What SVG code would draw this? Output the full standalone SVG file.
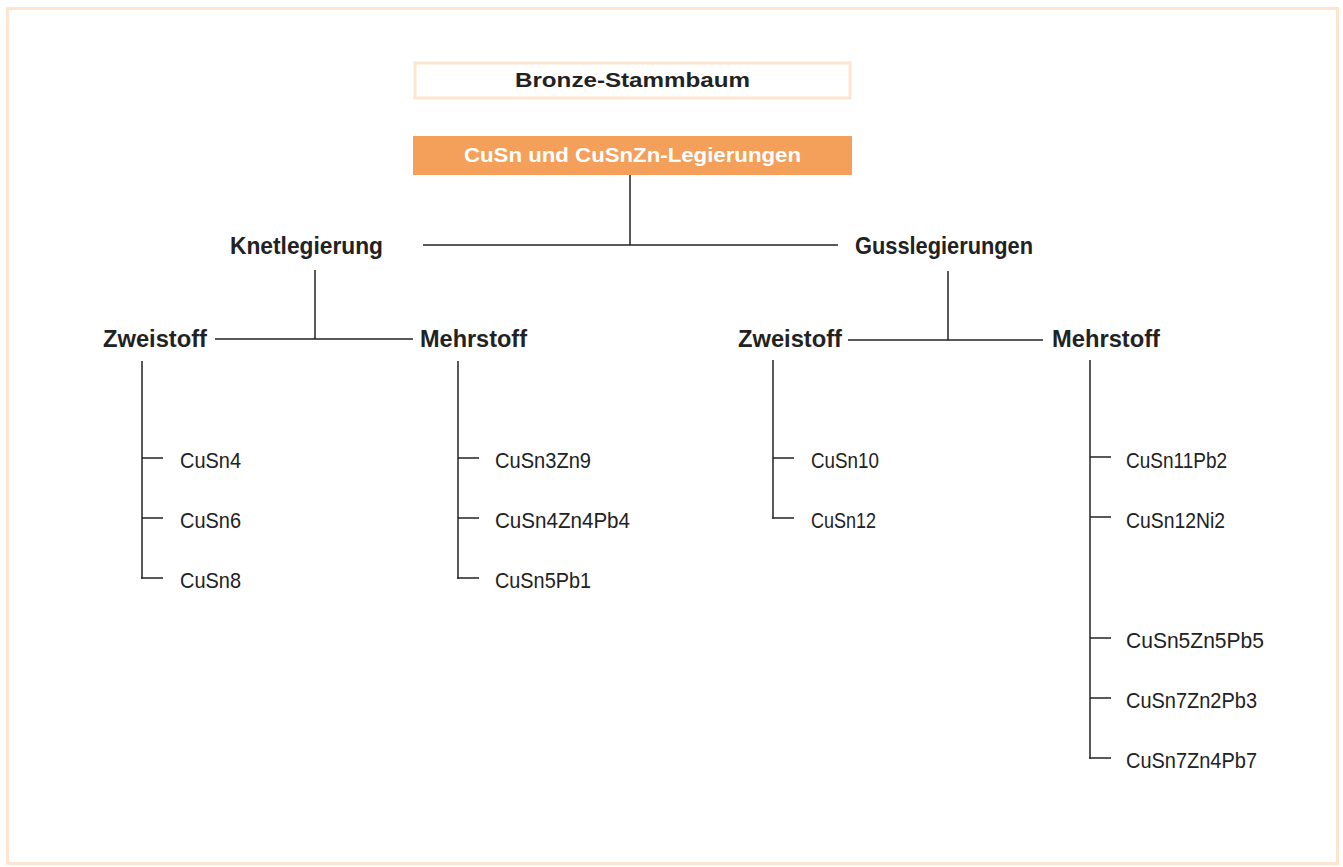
<svg xmlns="http://www.w3.org/2000/svg" width="1343" height="867" viewBox="0 0 1343 867">
<style>
.b{font-family:"Liberation Sans",Arial,sans-serif;font-weight:bold;font-size:23px;fill:#222}
.t{font-family:"Liberation Sans",Arial,sans-serif;font-weight:bold;font-size:21px;fill:#222}
.n{font-family:"Liberation Sans",Arial,sans-serif;font-size:22px;fill:#222}
.w{font-family:"Liberation Sans",Arial,sans-serif;font-weight:bold;font-size:21px;fill:#fff}
.c line{stroke:#222;stroke-width:1.5}
</style>
<rect x="7.5" y="8.5" width="1330" height="855" fill="#fff" stroke="#fde5d0" stroke-width="3"/>
<g id="title"><rect x="415" y="63" width="435" height="35" fill="#fff" stroke="#fde5d0" stroke-width="3"/><text class="t" x="632.5" y="87" text-anchor="middle" textLength="235" lengthAdjust="spacingAndGlyphs">Bronze-Stammbaum</text></g>
<g id="root"><rect x="413" y="136" width="439" height="39" fill="#f5a05a"/><text class="w" x="632.5" y="162" text-anchor="middle" textLength="337" lengthAdjust="spacingAndGlyphs">CuSn und CuSnZn-Legierungen</text></g>
<g id="knet"><text class="b" x="230" y="254" textLength="153" lengthAdjust="spacingAndGlyphs">Knetlegierung</text></g>
<g id="guss"><text class="b" x="855" y="254" textLength="178" lengthAdjust="spacingAndGlyphs">Gusslegierungen</text></g>
<g id="k-zwei"><text class="b" x="103" y="347" textLength="104" lengthAdjust="spacingAndGlyphs">Zweistoff</text></g>
<g id="k-mehr"><text class="b" x="420" y="347" textLength="107" lengthAdjust="spacingAndGlyphs">Mehrstoff</text></g>
<g id="g-zwei"><text class="b" x="738" y="347" textLength="104" lengthAdjust="spacingAndGlyphs">Zweistoff</text></g>
<g id="g-mehr"><text class="b" x="1052" y="347" textLength="108" lengthAdjust="spacingAndGlyphs">Mehrstoff</text></g>
<g id="kz1"><text class="n" x="180" y="468" textLength="61" lengthAdjust="spacingAndGlyphs">CuSn4</text></g>
<g id="kz2"><text class="n" x="180" y="528" textLength="61" lengthAdjust="spacingAndGlyphs">CuSn6</text></g>
<g id="kz3"><text class="n" x="180" y="588" textLength="61" lengthAdjust="spacingAndGlyphs">CuSn8</text></g>
<g id="km1"><text class="n" x="495" y="468" textLength="96" lengthAdjust="spacingAndGlyphs">CuSn3Zn9</text></g>
<g id="km2"><text class="n" x="495" y="528" textLength="135" lengthAdjust="spacingAndGlyphs">CuSn4Zn4Pb4</text></g>
<g id="km3"><text class="n" x="495" y="588" textLength="96" lengthAdjust="spacingAndGlyphs">CuSn5Pb1</text></g>
<g id="gz1"><text class="n" x="811" y="468" textLength="68" lengthAdjust="spacingAndGlyphs">CuSn10</text></g>
<g id="gz2"><text class="n" x="811" y="528" textLength="65" lengthAdjust="spacingAndGlyphs">CuSn12</text></g>
<g id="gm1"><text class="n" x="1126" y="468" textLength="101" lengthAdjust="spacingAndGlyphs">CuSn11Pb2</text></g>
<g id="gm2"><text class="n" x="1126" y="528" textLength="99" lengthAdjust="spacingAndGlyphs">CuSn12Ni2</text></g>
<g id="gm3"><text class="n" x="1126" y="648" textLength="138" lengthAdjust="spacingAndGlyphs">CuSn5Zn5Pb5</text></g>
<g id="gm4"><text class="n" x="1126" y="708" textLength="131" lengthAdjust="spacingAndGlyphs">CuSn7Zn2Pb3</text></g>
<g id="gm5"><text class="n" x="1126" y="768" textLength="131" lengthAdjust="spacingAndGlyphs">CuSn7Zn4Pb7</text></g>
<g id="connectors" class="c">
<line x1="630" y1="175" x2="630" y2="245"/>
<line x1="423" y1="245" x2="838" y2="245"/>
<line x1="315" y1="270" x2="315" y2="339"/>
<line x1="215" y1="339" x2="413" y2="339"/>
<line x1="948" y1="271" x2="948" y2="340"/>
<line x1="848" y1="340" x2="1043" y2="340"/>
<line x1="142" y1="361" x2="142" y2="578.75"/>
<line x1="142" y1="458" x2="163" y2="458"/>
<line x1="142" y1="518" x2="163" y2="518"/>
<line x1="141.25" y1="578" x2="163" y2="578"/>
<line x1="458" y1="361" x2="458" y2="578.75"/>
<line x1="458" y1="458" x2="479" y2="458"/>
<line x1="458" y1="518" x2="479" y2="518"/>
<line x1="457.25" y1="578" x2="479" y2="578"/>
<line x1="773" y1="360" x2="773" y2="518.75"/>
<line x1="773" y1="458" x2="794" y2="458"/>
<line x1="772.25" y1="518" x2="794" y2="518"/>
<line x1="1090" y1="360" x2="1090" y2="758.75"/>
<line x1="1090" y1="457" x2="1111" y2="457"/>
<line x1="1090" y1="517" x2="1111" y2="517"/>
<line x1="1090" y1="638" x2="1111" y2="638"/>
<line x1="1090" y1="698" x2="1111" y2="698"/>
<line x1="1089.25" y1="758" x2="1111" y2="758"/>
</g>
</svg>
